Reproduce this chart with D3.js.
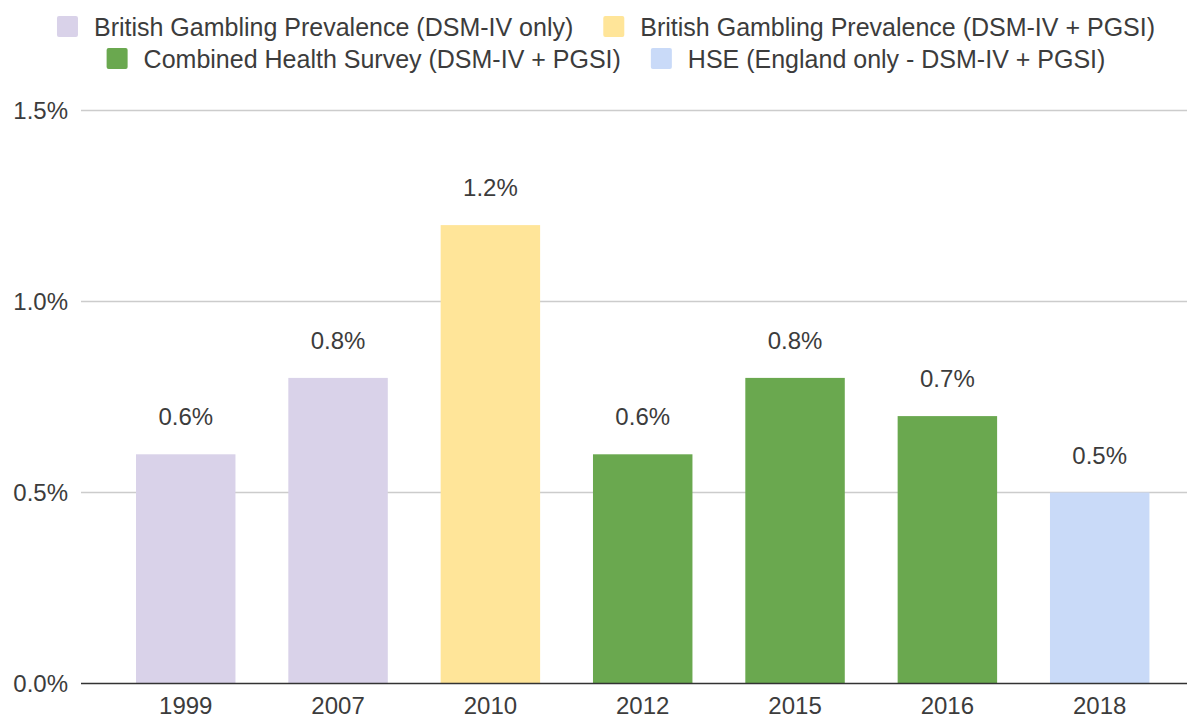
<!DOCTYPE html>
<html>
<head>
<meta charset="utf-8">
<script src="https://cdnjs.cloudflare.com/ajax/libs/d3/7.8.5/d3.min.js"></script>
<style>
  html, body { margin: 0; padding: 0; background: #fff; }
  svg { display: block; font-family: "Liberation Sans", Arial, sans-serif; }
</style>
</head>
<body>
<svg id="chart" width="1187" height="719"></svg>
<script>
// ---- data ----
const years = ["1999", "2007", "2010", "2012", "2015", "2016", "2018"];
const values = [0.6, 0.8, 1.2, 0.6, 0.8, 0.7, 0.5];
const seriesOf = [0, 0, 1, 2, 2, 2, 3];
const seriesNames = [
  "British Gambling Prevalence (DSM-IV only)",
  "British Gambling Prevalence (DSM-IV + PGSI)",
  "Combined Health Survey (DSM-IV + PGSI)",
  "HSE (England only - DSM-IV + PGSI)"
];
const seriesColors = ["#d9d2e9", "#ffe599", "#6aa84f", "#c9daf8"];
const yTicks = [0, 0.5, 1.0, 1.5];
const legendRows = [[0, 1], [2, 3]];

// ---- layout ----
const W = 1187, H = 719;
const svg = d3.select("#chart");
const textColor = "#3c3c3c";

const step = 152.33, pInner = 0.347, pOuter = 0.361;
const x0 = 81;
const x = d3.scaleBand()
  .domain(years)
  .range([x0, x0 + step * (years.length - pInner + 2 * pOuter)])
  .paddingInner(pInner)
  .paddingOuter(pOuter);

const y = d3.scaleLinear().domain([0, 1.5]).range([683.5, 110.5]);

// gridlines
svg.append("g").selectAll("line")
  .data(yTicks.filter(d => d > 0))
  .join("line")
  .attr("x1", x0).attr("x2", W)
  .attr("y1", d => y(d)).attr("y2", d => y(d))
  .attr("stroke", "#cccccc").attr("stroke-width", 1.3);

// y tick labels
svg.append("g").selectAll("text")
  .data(yTicks)
  .join("text")
  .attr("x", 68).attr("y", d => y(d))
  .attr("text-anchor", "end")
  .attr("dominant-baseline", "central")
  .attr("font-size", 24)
  .attr("fill", textColor)
  .text(d => d3.format(".1f")(d) + "%");

// bars
svg.append("g").selectAll("rect")
  .data(years.map((yr, i) => ({ yr, v: values[i], s: seriesOf[i] })))
  .join("rect")
  .attr("x", d => x(d.yr))
  .attr("width", x.bandwidth())
  .attr("y", d => y(d.v))
  .attr("height", d => y(0) - y(d.v))
  .attr("fill", d => seriesColors[d.s]);

// value labels
svg.append("g").selectAll("text")
  .data(years.map((yr, i) => ({ yr, v: values[i] })))
  .join("text")
  .attr("x", d => x(d.yr) + x.bandwidth() / 2)
  .attr("y", d => y(d.v) - 29)
  .attr("text-anchor", "middle")
  .attr("font-size", 24)
  .attr("fill", textColor)
  .text(d => d3.format(".1f")(d.v) + "%");

// x axis line
svg.append("line")
  .attr("x1", x0).attr("x2", W)
  .attr("y1", y(0)).attr("y2", y(0))
  .attr("stroke", "#333333").attr("stroke-width", 1.5);

// x labels
svg.append("g").selectAll("text")
  .data(years)
  .join("text")
  .attr("x", d => x(d) + x.bandwidth() / 2)
  .attr("y", 714)
  .attr("text-anchor", "middle")
  .attr("font-size", 24)
  .attr("fill", textColor)
  .text(d => d);

// legend
const sw = 21, gapText = 16, gapItem = 30, legendCenter = 606;
const rowCenters = [26.5, 58.5];
legendRows.forEach((row, ri) => {
  const g = svg.append("g");
  const items = row.map(si => {
    const ig = g.append("g");
    ig.append("rect").attr("width", sw).attr("height", sw).attr("rx", 2)
      .attr("y", rowCenters[ri] - sw / 2)
      .attr("fill", seriesColors[si]);
    const t = ig.append("text")
      .attr("x", sw + gapText)
      .attr("y", rowCenters[ri])
      .attr("dominant-baseline", "central")
      .attr("font-size", 25)
      .attr("fill", textColor)
      .text(seriesNames[si]);
    const w = sw + gapText + t.node().getComputedTextLength();
    return { ig, w };
  });
  const total = d3.sum(items, d => d.w) + gapItem * (items.length - 1);
  let cx = legendCenter - total / 2;
  items.forEach(it => {
    it.ig.attr("transform", `translate(${cx},0)`);
    cx += it.w + gapItem;
  });
});
</script>
</body>
</html>
